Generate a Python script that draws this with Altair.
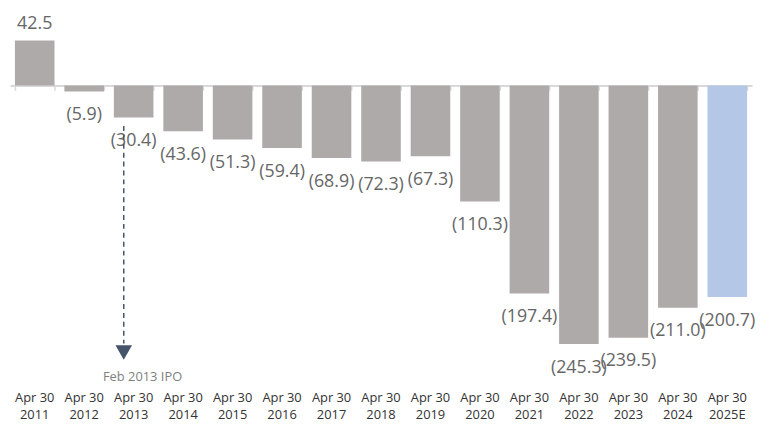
import altair as alt
import pandas as pd

# ---- data ----
years = ["2011", "2012", "2013", "2014", "2015", "2016", "2017", "2018",
         "2019", "2020", "2021", "2022", "2023", "2024", "2025E"]
values = [42.5, -5.9, -30.4, -43.6, -51.3, -59.4, -68.9, -72.3,
          -67.3, -110.3, -197.4, -245.3, -239.5, -211.0, -200.7]
kinds = ["Actual"] * 14 + ["Estimate"]

ipo_year = "2013"
ipo_text = "Feb 2013 IPO"
ipo_line_top = -38.5
ipo_line_bottom = -245.0
ipo_arrow_y = -253.5
ipo_text_y = -276.5


def fmt(v):
    return f"{v:.1f}" if v >= 0 else f"({abs(v):.1f})"


df = pd.DataFrame({
    "year": years,
    "value": values,
    "kind": kinds,
    "label": [fmt(v) for v in values],
    "sign": ["pos" if v >= 0 else "neg" for v in values],
})

W, H = 750, 380
px_per_unit = 1.065
zero_px = 76.0
y_top = zero_px / px_per_unit
y_bot = -(H - zero_px) / px_per_unit
axis_offset = -(H - zero_px)

FONT = "Open Sans"

x_scale = alt.Scale(domain=years, paddingInner=0.2, paddingOuter=0.1)
y_scale = alt.Scale(domain=[y_bot, y_top], nice=False, zero=False)

bars = alt.Chart(df).mark_bar().encode(
    x=alt.X("year:N", scale=x_scale, sort=years,
            axis=alt.Axis(title=None, orient="bottom", domain=False, ticks=False,
                          labelAngle=0,
                          labelExpr="['Apr 30', datum.label]",
                          labelFont=FONT, labelFontSize=13, labelColor="#333333",
                          labelLineHeight=18, labelPadding=5, grid=False)),
    y=alt.Y("value:Q", scale=y_scale, axis=None),
    y2=alt.datum(0),
    color=alt.Color("kind:N", legend=None,
                    scale=alt.Scale(domain=["Actual", "Estimate"],
                                    range=["#aeaaaa", "#b4c7e7"])),
)

zero_axis = alt.Axis(title=None, orient="bottom", labels=False, domain=True,
                     domainColor="#d9d9d9", domainWidth=2, ticks=True,
                     tickBand="extent", tickSize=5, tickColor="#d9d9d9",
                     tickWidth=1.5, grid=False, offset=axis_offset)

pos_labels = alt.Chart(df).transform_filter("datum.sign == 'pos'").mark_text(
    font=FONT, fontSize=18, color="#666666", baseline="middle", dy=-17
).encode(
    x=alt.X("year:N", scale=x_scale, sort=years, axis=zero_axis),
    y=alt.Y("value:Q", scale=y_scale, axis=None),
    text="label:N",
)

neg_labels = alt.Chart(df).transform_filter("datum.sign == 'neg'").mark_text(
    font=FONT, fontSize=18, color="#666666", baseline="middle", dy=24
).encode(
    x=alt.X("year:N", scale=x_scale, sort=years, axis=None),
    y=alt.Y("value:Q", scale=y_scale, axis=None),
    text="label:N",
)

ann = pd.DataFrame({"year": [ipo_year], "y1": [ipo_line_top], "y2": [ipo_line_bottom],
                    "ya": [ipo_arrow_y], "yt": [ipo_text_y], "text": [ipo_text]})

ipo_line = alt.Chart(ann).mark_rule(
    color="#44546a", strokeWidth=1.5, strokeDash=[5, 4], xOffset=-10
).encode(
    x=alt.X("year:N", scale=x_scale, sort=years, axis=None),
    y=alt.Y("y1:Q", scale=y_scale, axis=None),
    y2="y2:Q",
)

ipo_arrow = alt.Chart(ann).mark_point(
    shape="triangle-down", filled=True, color="#44546a", opacity=1, size=280,
    xOffset=-10
).encode(
    x=alt.X("year:N", scale=x_scale, sort=years, axis=None),
    y=alt.Y("ya:Q", scale=y_scale, axis=None),
)

ipo_label = alt.Chart(ann).mark_text(
    font=FONT, fontSize=13, color="#7f7f7f", baseline="middle", xOffset=9
).encode(
    x=alt.X("year:N", scale=x_scale, sort=years, axis=None),
    y=alt.Y("yt:Q", scale=y_scale, axis=None),
    text="text:N",
)

chart = alt.layer(
    bars, pos_labels, neg_labels, ipo_line, ipo_arrow, ipo_label
).resolve_axis(x="independent").properties(
    width=W, height=H,
    background="white",
    autosize=alt.AutoSizeParams(type="none"),
    padding={"left": 2, "top": 0, "right": 3, "bottom": 36},
).configure_view(strokeWidth=0, stroke="transparent")

chart.save("out.html", embed_options={"renderer": "svg", "actions": False})
